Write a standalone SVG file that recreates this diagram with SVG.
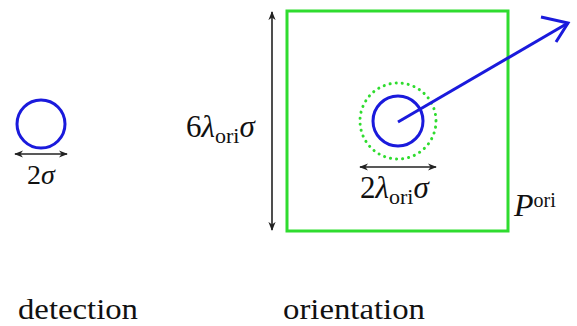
<svg xmlns="http://www.w3.org/2000/svg" width="577" height="326" viewBox="0 0 577 326">
<defs>
<marker id="ah" viewBox="0 0 10 10" refX="9" refY="5" markerWidth="9" markerHeight="9" markerUnits="userSpaceOnUse" orient="auto-start-reverse">
<path d="M0,1 L10,5 L0,9 L3,5 Z" fill="#222"/>
</marker>
</defs>
<style>
.t{font-family:"Liberation Serif","DejaVu Serif",serif;fill:#111;}
.m{font-size:31px;}
.i{font-style:italic;}
.s{font-size:22px;}
.dim{stroke:#222;stroke-width:1.6;fill:none;marker-start:url(#ah);marker-end:url(#ah);}
.blue{stroke:#1a1adc;stroke-width:3;fill:none;}
</style>
<rect width="577" height="326" fill="#fff"/>
<g id="detection">
<circle class="blue" cx="41" cy="124" r="24"/>
<text class="t" x="18" y="319" font-size="29" textLength="120" lengthAdjust="spacingAndGlyphs">detection</text>
</g>
<g id="detection-size">
<line class="dim" x1="15" y1="154" x2="67" y2="154"/>
<text class="t" font-size="28" x="41" y="184" text-anchor="middle">2<tspan class="i">σ</tspan></text>
</g>
<g id="window">
<rect x="287" y="11" width="221" height="220" fill="none" stroke="#2fdc2f" stroke-width="3"/>
<text class="t" x="514" y="216"><tspan class="i" font-size="32">P</tspan><tspan font-size="20" dy="-9">ori</tspan></text>
</g>
<g id="orientation">
<circle cx="398" cy="121" r="38" fill="none" stroke="#2fdc2f" stroke-width="3" stroke-dasharray="0.1 6" stroke-linecap="round"/>
<circle class="blue" cx="398" cy="121" r="25"/>
<text class="t" x="283" y="319" font-size="29" textLength="142" lengthAdjust="spacingAndGlyphs">orientation</text>
</g>
<g id="connectors">
<line class="dim" x1="272" y1="12" x2="272" y2="230"/>
<line class="dim" x1="360" y1="167" x2="436" y2="167"/>
<line x1="398" y1="122" x2="568" y2="23" stroke="#1a1adc" stroke-width="3"/>
<polyline points="541,17 568,23 556,42" fill="none" stroke="#1a1adc" stroke-width="3"/>
</g>
<g id="labels">
<text class="t m" x="186" y="137">6<tspan class="i">λ</tspan><tspan class="s" dy="6">ori</tspan><tspan class="i" dy="-6">σ</tspan></text>
<text class="t m" x="360" y="198">2<tspan class="i">λ</tspan><tspan class="s" dy="6">ori</tspan><tspan class="i" dy="-6">σ</tspan></text>
</g>
</svg>
